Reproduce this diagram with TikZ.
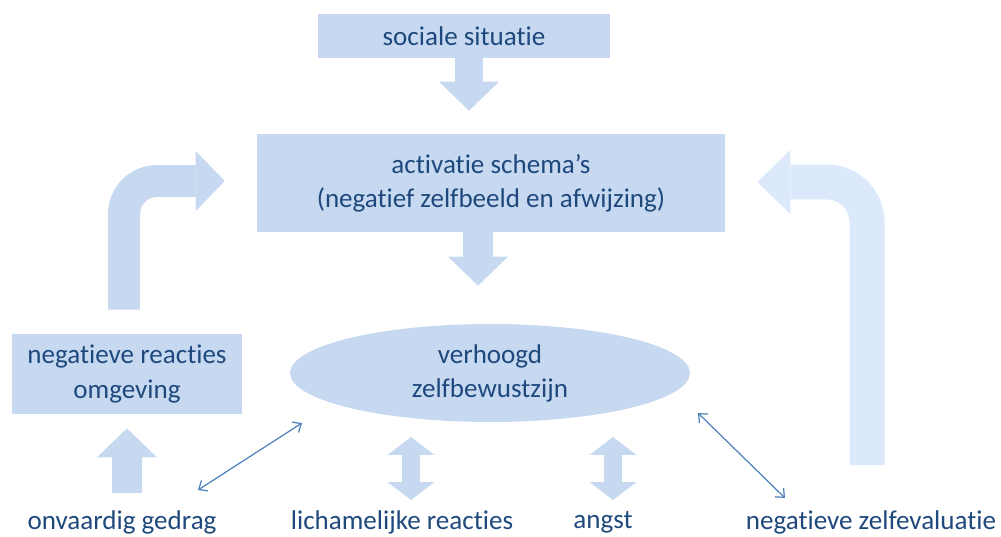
\documentclass[tikz,border=0pt]{standalone}
\usepackage{fontspec}
\setmainfont{Carlito}[RawFeature={-liga;-clig;-calt;-dlig}]
\usetikzlibrary{arrows.meta,calc,shapes.geometric}
\definecolor{boxblue}{HTML}{C6D9F0}
\definecolor{paleblue}{HTML}{DBE9FB}
\definecolor{textblue}{HTML}{1F497D}
\definecolor{linkblue}{HTML}{4F81BD}

\begin{document}
\begin{tikzpicture}
    [x=0.02cm, y=-0.02cm,
     every node/.style={font=\fontsize{15.4}{19.4}\selectfont, text=textblue, align=center},
     box/.style={fill=boxblue, inner sep=0pt},
     blocktip/.style={-{Triangle[width=1.2cm,length=0.58cm,line width=0pt]}},
     bigarrow/.style={draw=boxblue, line width=0.58cm, blocktip},
     bentarrow/.style={line width=0.66cm, rounded corners=0.7cm},
     duo/.style={draw=boxblue, line width=0.36cm,
        {Triangle[width=0.94cm,length=0.36cm,line width=0pt]}-{Triangle[width=0.94cm,length=0.36cm,line width=0pt]}},
     link/.style={draw=linkblue, line width=0.7pt,
        {Straight Barb[length=4pt,width=7pt]}-{Straight Barb[length=4pt,width=7pt]}}]
\useasboundingbox (0,0) rectangle (1001,537);

\node[box, minimum width=5.84cm, minimum height=0.88cm](soc) at (464,36) {sociale situatie};
\node[box, minimum width=9.36cm, minimum height=1.96cm](schema) at (491,183)
    {activatie schema's\\(negatief zelfbeeld en afwijzing)};
\node[box, ellipse, minimum width=8cm, minimum height=1.96cm](zbw) at (490,373)
    {verhoogd\\zelfbewustzijn};
\node[box, minimum width=4.6cm, minimum height=1.6cm](omg) at (127,374)
    {negatieve reacties\\omgeving};

\node(onv) at (122,522) {onvaardig gedrag};
\node(lich) at (402,522) {lichamelijke reacties};
\node(angst) at (603,522) {angst};
\node(zelf) at (871,522) {negatieve zelfevaluatie};

% block arrows
\coordinate (s1) at (469,57);
\coordinate (s2) at (478,232);
\draw[bigarrow, line width=0.56cm, shorten >=0.46cm] (s1) -- (s1 |- schema.north);
\draw[bigarrow, line width=0.6cm, shorten >=0.76cm] (s2) -- (s2 |- zbw.north);
\coordinate (u1) at (127,493);
\draw[bigarrow, line width=0.62cm, shorten >=0.28cm] (u1) -- (u1 |- omg.south);

\draw[bigarrow, bentarrow, line width=0.64cm, rounded corners=0.66cm]
    ([xshift=-0.06cm,yshift=0.48cm]omg.north) |- ([xshift=-0.64cm,yshift=0.04cm]schema.west);
\coordinate (r1) at (867,465);
\draw[bigarrow, bentarrow, draw=paleblue, line width=0.7cm, rounded corners=0.8cm,
      -{Triangle[width=1.28cm,length=0.66cm,line width=0pt]}]
    (r1) |- ([xshift=0.64cm,yshift=0.02cm]schema.east);

% double arrows
\coordinate (d1) at (411,437);
\coordinate (d2) at (613,437);
\draw[duo] (d1) -- ++(0,63);
\draw[duo] (d2) -- ++(0,63);

% thin links
\coordinate (l1a) at (198,490);
\coordinate (l1b) at (302,423);
\coordinate (l2a) at (698,413);
\coordinate (l2b) at (785,498);
\draw[link] (l1a) -- (l1b);
\draw[link] (l2a) -- (l2b);
\end{tikzpicture}
\end{document}
